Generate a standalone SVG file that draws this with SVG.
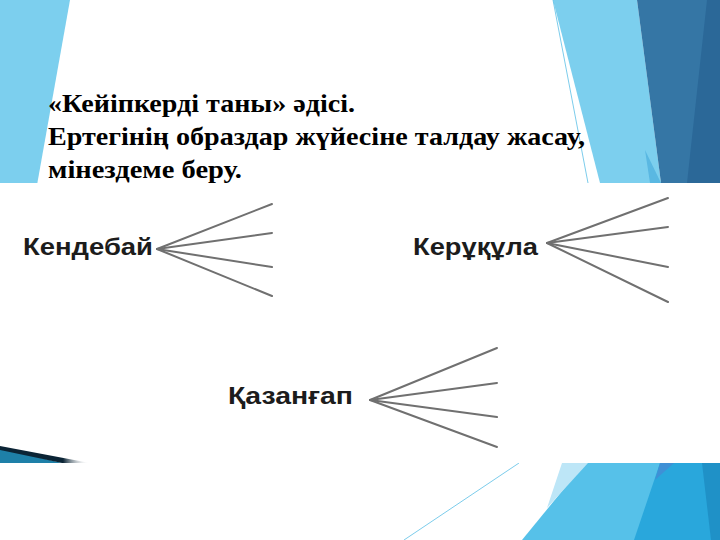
<svg xmlns="http://www.w3.org/2000/svg" width="720" height="540" viewBox="0 0 720 540">
<style>
.title{font-family:"Liberation Serif","Times New Roman",serif;font-weight:bold;font-size:25px;fill:#000}
.name{font-family:"Liberation Sans",Arial,sans-serif;font-weight:bold;font-size:24px;fill:#1c1c1c}
.fan{stroke:#707070;stroke-width:2;fill:none;stroke-linecap:round}
.thin{stroke:#5bbfe6;stroke-width:0.8;fill:none}
</style>
<defs>
<linearGradient id="wedge" x1="0" y1="0" x2="1" y2="0">
<stop offset="0" stop-color="#0b2435"/>
<stop offset="0.7" stop-color="#0b2435"/>
<stop offset="1" stop-color="#ffffff" stop-opacity="0"/>
</linearGradient>
</defs>
<rect x="0" y="0" width="720" height="540" fill="#ffffff"/>
<g id="background">
<polygon points="0,0 70,0 37,185 0,185" fill="#7ccfee"/>
<polygon points="553,0 637,0 661,183 600,183" fill="#7ccfee"/>
<polygon points="645,150 661,183 650,183" fill="#5ab8e2"/>
<polygon points="637,0 720,0 720,183 661,183" fill="#3576a5"/>
<polygon points="707,0 720,0 720,183 687,183" fill="#2b6898"/>
<line class="thin" x1="553" y1="0" x2="588" y2="183"/>
<polygon points="585,463 720,463 720,540 522,540" fill="#56c1e9"/>
<polygon points="562,463 588,463 547,508" fill="#bde6f7"/>
<polygon points="660,463 720,463 720,540 634,540" fill="#29a7dc"/>
<polygon points="660,463 674,463 655,480" fill="#3f90d6"/>
<polygon points="702,463 720,463 720,540 711,540" fill="#1f91c7"/>
<line class="thin" x1="404" y1="540" x2="519" y2="463"/>
</g>
<rect id="panel" x="0" y="183" width="720" height="280" fill="#ffffff"/>
<g id="panel-corner">
<polygon points="0,448 0,463 62,463" fill="#1e80a8"/>
<polygon points="0,446 90,463 62,463 0,450" fill="url(#wedge)"/>
</g>
<g id="title">
<text class="title" x="48" y="112" textLength="307" lengthAdjust="spacingAndGlyphs">«Кейіпкерді таны» әдісі.</text>
<text class="title" x="48" y="145" textLength="537" lengthAdjust="spacingAndGlyphs">Ертегінің образдар жүйесіне талдау жасау,</text>
<text class="title" x="48" y="178" textLength="194" lengthAdjust="spacingAndGlyphs">мінездеме беру.</text>
</g>
<g id="node-kendebai">
<text class="name" x="23" y="255" textLength="130" lengthAdjust="spacingAndGlyphs">Кендебай</text>
</g>
<g id="node-kerukula">
<text class="name" x="413" y="255" textLength="125" lengthAdjust="spacingAndGlyphs">Керұқұла</text>
</g>
<g id="node-kazangap">
<text class="name" x="228" y="404" textLength="125" lengthAdjust="spacingAndGlyphs">Қазанғап</text>
</g>
<g id="connectors">
<line class="fan" x1="157" y1="249" x2="272" y2="204"/>
<line class="fan" x1="157" y1="249" x2="272" y2="233"/>
<line class="fan" x1="157" y1="249" x2="272" y2="267"/>
<line class="fan" x1="157" y1="249" x2="272" y2="296"/>
<line class="fan" x1="547" y1="243" x2="668" y2="198"/>
<line class="fan" x1="547" y1="243" x2="668" y2="227"/>
<line class="fan" x1="547" y1="243" x2="668" y2="267"/>
<line class="fan" x1="547" y1="243" x2="668" y2="302"/>
<line class="fan" x1="370" y1="400" x2="497" y2="348"/>
<line class="fan" x1="370" y1="400" x2="497" y2="383"/>
<line class="fan" x1="370" y1="400" x2="497" y2="417"/>
<line class="fan" x1="370" y1="400" x2="497" y2="447"/>
</g>
</svg>
